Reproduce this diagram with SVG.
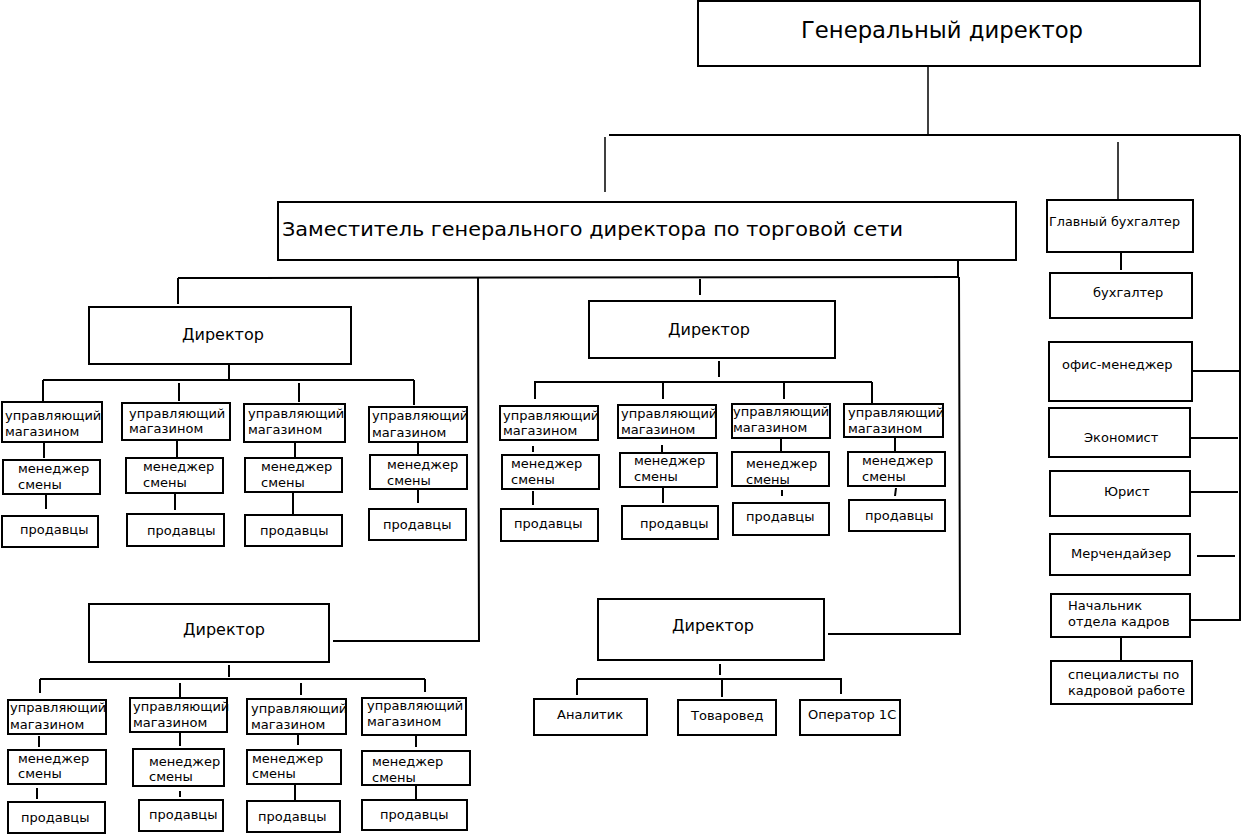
<svg xmlns="http://www.w3.org/2000/svg" width="1245" height="836" viewBox="0 0 1245 836">
<style>
rect{fill:#fff;stroke:#000;stroke-width:2}
text{font-family:"DejaVu Sans","Liberation Sans",sans-serif;font-size:13px;fill:#000}
.d{font-size:16px}
#connectors line,#connectors polyline{stroke:#000;stroke-width:2;fill:none}
#connectors .t{stroke-width:1.5}
</style>
<rect x="0" y="0" width="1245" height="836" style="stroke:none"/>
<g id="connectors">
<line class="t" x1="928" y1="66" x2="928" y2="135"/>
<line x1="609" y1="135" x2="1240" y2="135"/>
<line class="t" x1="605" y1="137" x2="605" y2="192"/>
<line class="t" x1="1118" y1="142" x2="1118" y2="199"/>
<line x1="1240" y1="135" x2="1240" y2="621"/>
<line x1="1121" y1="252" x2="1121" y2="270"/>
<line x1="1192" y1="371" x2="1240" y2="371"/>
<line x1="1190" y1="438" x2="1238" y2="438"/>
<line x1="1190" y1="492" x2="1238" y2="492"/>
<line x1="1197" y1="556" x2="1235" y2="556"/>
<line x1="1190" y1="620" x2="1240" y2="620"/>
<line x1="1121" y1="637" x2="1121" y2="660"/>
<line x1="958" y1="260" x2="958" y2="277"/>
<line x1="178" y1="278" x2="959" y2="277"/>
<line x1="178" y1="278" x2="178" y2="304"/>
<line x1="700" y1="279" x2="700" y2="295"/>
<polyline points="478,277 479,641 333,641"/>
<polyline points="959,277 960,634 828,634"/>
<line x1="229" y1="364" x2="229" y2="380"/>
<line x1="43" y1="380" x2="414" y2="380"/>
<line x1="43" y1="380" x2="43" y2="401"/>
<line x1="179" y1="383" x2="179" y2="401"/>
<line x1="299" y1="383" x2="299" y2="402"/>
<line x1="414" y1="380" x2="414" y2="405"/>
<line x1="44" y1="442" x2="44" y2="458"/>
<line x1="177" y1="440" x2="177" y2="457"/>
<line x1="295" y1="442" x2="295" y2="457"/>
<line x1="418" y1="442" x2="418" y2="455"/>
<line x1="46" y1="495" x2="46" y2="509"/>
<line x1="175" y1="494" x2="175" y2="510"/>
<line x1="293" y1="492" x2="293" y2="514"/>
<line x1="418" y1="489" x2="418" y2="503"/>
<line x1="719" y1="361" x2="719" y2="377"/>
<line x1="534" y1="382" x2="872" y2="382"/>
<line x1="535" y1="382" x2="535" y2="399"/>
<line x1="663" y1="382" x2="663" y2="399"/>
<line x1="784" y1="382" x2="784" y2="399"/>
<line x1="872" y1="382" x2="872" y2="403"/>
<line x1="533" y1="446" x2="533" y2="452"/>
<line x1="662" y1="445" x2="662" y2="452"/>
<line x1="781" y1="438" x2="781" y2="452"/>
<line x1="895" y1="437" x2="895" y2="452"/>
<line x1="533" y1="491" x2="533" y2="505"/>
<line x1="663" y1="487" x2="663" y2="503"/>
<line x1="782" y1="490" x2="782" y2="496"/>
<line x1="896" y1="488" x2="895" y2="496"/>
<line x1="229" y1="665" x2="229" y2="677"/>
<line x1="40" y1="679" x2="425" y2="679"/>
<line x1="40" y1="679" x2="40" y2="693"/>
<line x1="180" y1="683" x2="180" y2="697"/>
<line x1="301" y1="683" x2="301" y2="695"/>
<line x1="425" y1="679" x2="425" y2="692"/>
<line x1="39" y1="736" x2="39" y2="747"/>
<line x1="180" y1="733" x2="180" y2="746"/>
<line x1="298" y1="735" x2="298" y2="745"/>
<line x1="416" y1="736" x2="416" y2="747"/>
<line x1="37" y1="788" x2="37" y2="799"/>
<line x1="180" y1="791" x2="180" y2="797"/>
<line x1="295" y1="785" x2="295" y2="800"/>
<line x1="416" y1="785" x2="416" y2="801"/>
<line x1="720" y1="664" x2="720" y2="675"/>
<line x1="577" y1="679" x2="842" y2="679"/>
<line x1="577" y1="679" x2="577" y2="695"/>
<line x1="722" y1="679" x2="722" y2="697"/>
<line x1="841" y1="679" x2="841" y2="694"/>
</g>
<g id="gen-dir"><rect x="698" y="1" width="502" height="65"/><text x="801" y="38" style="font-size:23px" textLength="282" lengthAdjust="spacingAndGlyphs">Генеральный директор</text></g>
<g id="deputy"><rect x="278" y="202" width="738" height="58"/><text x="282" y="236" style="font-size:20px" textLength="621" lengthAdjust="spacingAndGlyphs">Заместитель генерального директора по торговой сети</text></g>
<g id="chief-acc"><rect x="1047" y="200" width="146" height="52"/><text x="1049" y="226" textLength="131" lengthAdjust="spacingAndGlyphs">Главный бухгалтер</text></g>
<g id="acc"><rect x="1050" y="273" width="142" height="45"/><text x="1093" y="297">бухгалтер</text></g>
<g id="office"><rect x="1049" y="342" width="143" height="59"/><text x="1062" y="369">офис-менеджер</text></g>
<g id="econ"><rect x="1049" y="408" width="141" height="49"/><text x="1084" y="442">Экономист</text></g>
<g id="lawyer"><rect x="1050" y="471" width="140" height="45"/><text x="1104" y="496">Юрист</text></g>
<g id="merch"><rect x="1050" y="534" width="140" height="41"/><text x="1071" y="558">Мерчендайзер</text></g>
<g id="hr-head"><rect x="1051" y="594" width="139" height="43"/><text x="1068" y="610">Начальник</text><text x="1068" y="626">отдела кадров</text></g>
<g id="hr-spec"><rect x="1051" y="661" width="141" height="43"/><text x="1068" y="679">специалисты по</text><text x="1068" y="695">кадровой работе</text></g>
<g id="dir1"><rect x="89" y="307" width="262" height="57"/><text class="d" x="182" y="340">Директор</text></g>
<g id="dir2"><rect x="589" y="301" width="246" height="57"/><text class="d" x="668" y="335">Директор</text></g>
<g id="dir3"><rect x="89" y="604" width="240" height="58"/><text class="d" x="183" y="635">Директор</text></g>
<g id="dir4"><rect x="598" y="599" width="226" height="61"/><text class="d" x="672" y="631">Директор</text></g>
<g id="a1"><rect x="2" y="402" width="100" height="40"/><text x="5" y="420">управляющий</text><text x="5" y="436">магазином</text></g>
<g id="a2"><rect x="122" y="403" width="108" height="37"/><text x="129" y="418">управляющий</text><text x="129" y="433">магазином</text></g>
<g id="a3"><rect x="244" y="404" width="101" height="38"/><text x="248" y="418">управляющий</text><text x="248" y="434">магазином</text></g>
<g id="a4"><rect x="369" y="407" width="98" height="35"/><text x="372" y="420">управляющий</text><text x="372" y="437">магазином</text></g>
<g id="a1m"><rect x="3" y="460" width="97" height="34"/><text x="18" y="473">менеджер</text><text x="18" y="489">смены</text></g>
<g id="a2m"><rect x="126" y="458" width="97" height="35"/><text x="143" y="471">менеджер</text><text x="143" y="487">смены</text></g>
<g id="a3m"><rect x="245" y="458" width="97" height="34"/><text x="261" y="471">менеджер</text><text x="261" y="487">смены</text></g>
<g id="a4m"><rect x="370" y="455" width="97" height="34"/><text x="387" y="469">менеджер</text><text x="387" y="485">смены</text></g>
<g id="a1s"><rect x="2" y="516" width="96" height="31"/><text x="20" y="534">продавцы</text></g>
<g id="a2s"><rect x="127" y="514" width="97" height="32"/><text x="147" y="535">продавцы</text></g>
<g id="a3s"><rect x="245" y="515" width="97" height="31"/><text x="260" y="535">продавцы</text></g>
<g id="a4s"><rect x="369" y="509" width="97" height="31"/><text x="383" y="529">продавцы</text></g>
<g id="b1"><rect x="500" y="406" width="98" height="34"/><text x="503" y="420">управляющий</text><text x="503" y="435">магазином</text></g>
<g id="b2"><rect x="618" y="405" width="98" height="33"/><text x="621" y="418">управляющий</text><text x="621" y="434">магазином</text></g>
<g id="b3"><rect x="732" y="404" width="98" height="34"/><text x="733" y="416">управляющий</text><text x="733" y="432">магазином</text></g>
<g id="b4"><rect x="844" y="404" width="99" height="33"/><text x="848" y="417">управляющий</text><text x="848" y="433">магазином</text></g>
<g id="b1m"><rect x="502" y="455" width="97" height="34"/><text x="511" y="468">менеджер</text><text x="511" y="484">смены</text></g>
<g id="b2m"><rect x="620" y="453" width="97" height="34"/><text x="634" y="465">менеджер</text><text x="634" y="481">смены</text></g>
<g id="b3m"><rect x="732" y="452" width="97" height="34"/><text x="746" y="468">менеджер</text><text x="746" y="484">смены</text></g>
<g id="b4m"><rect x="848" y="452" width="97" height="34"/><text x="862" y="465">менеджер</text><text x="862" y="481">смены</text></g>
<g id="b1s"><rect x="501" y="509" width="97" height="32"/><text x="514" y="528">продавцы</text></g>
<g id="b2s"><rect x="622" y="506" width="96" height="33"/><text x="640" y="528">продавцы</text></g>
<g id="b3s"><rect x="733" y="503" width="96" height="32"/><text x="746" y="521">продавцы</text></g>
<g id="b4s"><rect x="849" y="500" width="96" height="31"/><text x="865" y="520">продавцы</text></g>
<g id="c1"><rect x="8" y="700" width="98" height="34"/><text x="10" y="712">управляющий</text><text x="10" y="729">магазином</text></g>
<g id="c2"><rect x="130" y="698" width="97" height="34"/><text x="133" y="711">управляющий</text><text x="133" y="727">магазином</text></g>
<g id="c3"><rect x="247" y="699" width="99" height="35"/><text x="251" y="713">управляющий</text><text x="251" y="729">магазином</text></g>
<g id="c4"><rect x="362" y="698" width="104" height="37"/><text x="367" y="710">управляющий</text><text x="367" y="726">магазином</text></g>
<g id="c1m"><rect x="8" y="750" width="98" height="34"/><text x="18" y="763">менеджер</text><text x="18" y="778">смены</text></g>
<g id="c2m"><rect x="133" y="749" width="91" height="37"/><text x="149" y="766">менеджер</text><text x="149" y="781">смены</text></g>
<g id="c3m"><rect x="247" y="750" width="94" height="34"/><text x="252" y="763">менеджер</text><text x="252" y="778">смены</text></g>
<g id="c4m"><rect x="362" y="751" width="108" height="34"/><text x="372" y="766">менеджер</text><text x="372" y="782">смены</text></g>
<g id="c1s"><rect x="8" y="802" width="97" height="31"/><text x="21" y="822">продавцы</text></g>
<g id="c2s"><rect x="139" y="800" width="84" height="31"/><text x="149" y="819">продавцы</text></g>
<g id="c3s"><rect x="247" y="801" width="93" height="31"/><text x="258" y="821">продавцы</text></g>
<g id="c4s"><rect x="362" y="800" width="105" height="30"/><text x="380" y="819">продавцы</text></g>
<g id="analyst"><rect x="534" y="699" width="113" height="36"/><text x="557" y="719">Аналитик</text></g>
<g id="merchandiser"><rect x="678" y="700" width="98" height="35"/><text x="691" y="720">Товаровед</text></g>
<g id="operator"><rect x="800" y="700" width="100" height="35"/><text x="808" y="719">Оператор 1С</text></g>
</svg>
